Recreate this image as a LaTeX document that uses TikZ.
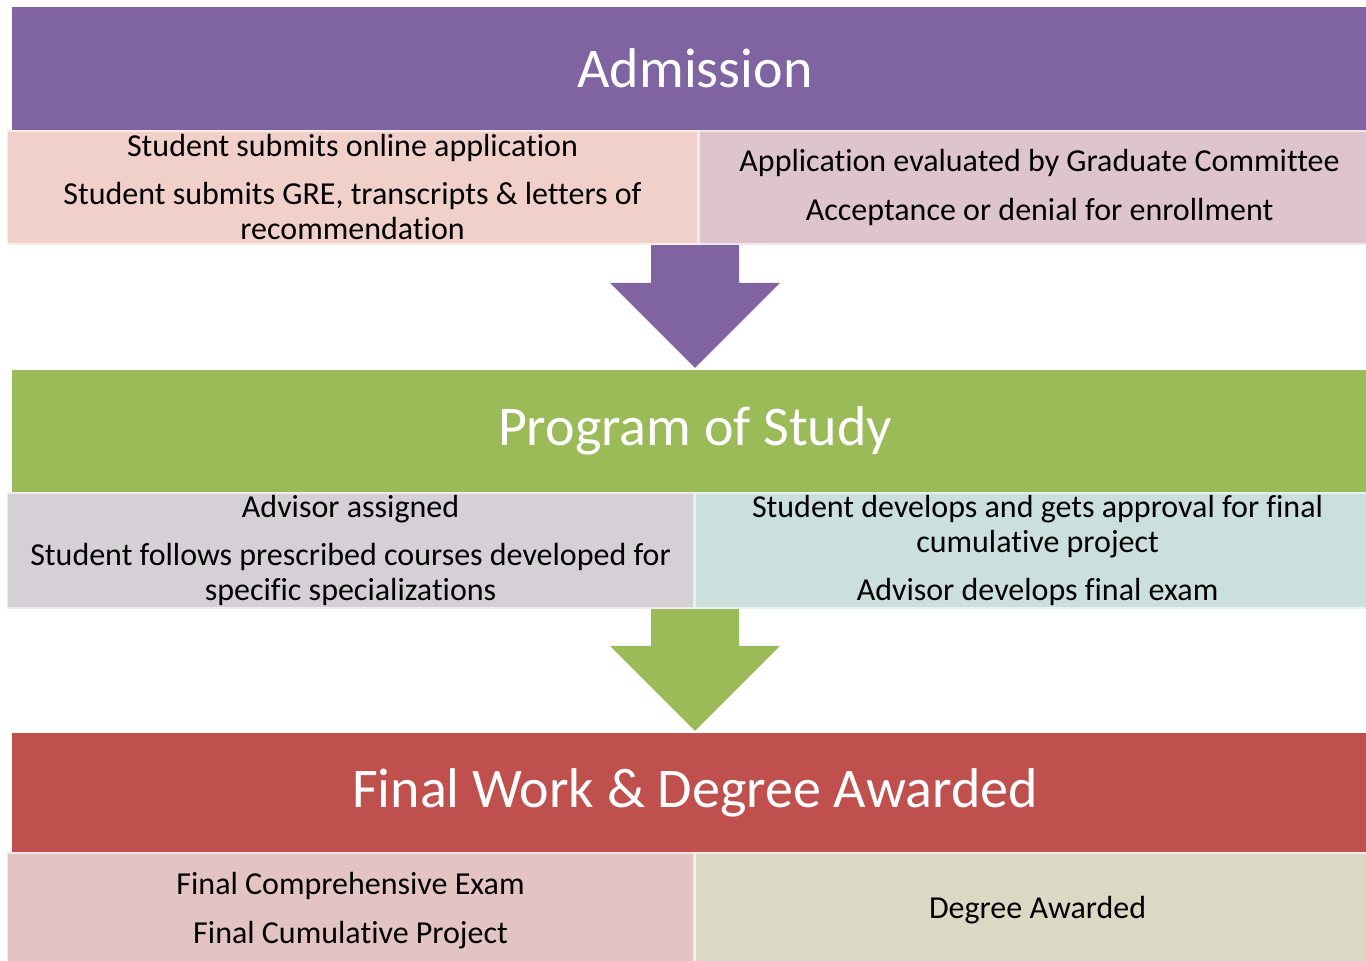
\documentclass[tikz,border=0pt]{standalone}
\usepackage{fontspec}
\setmainfont{Carlito}[Ligatures=NoCommon]
\usetikzlibrary{positioning,calc,backgrounds}
\definecolor{admcol}{HTML}{8064A2}
\definecolor{admL}{HTML}{F0D0C8}
\definecolor{admR}{HTML}{DEC5CC}
\definecolor{progcol}{HTML}{9BBB59}
\definecolor{progL}{HTML}{D4D0D6}
\definecolor{progR}{HTML}{CBDFDC}
\definecolor{fincol}{HTML}{C0504D}
\definecolor{finL}{HTML}{E4C3C3}
\definecolor{finR}{HTML}{DBD9C4}
\tikzset{x=1pt, y=-1pt, % one unit is one pixel of the slide
        head/.style={ % Sets the properties for each stage title
            rectangle,
            inner sep=0pt,
            minimum width=1366pt,
            minimum height=123pt,
            text=white,
            font=\fontsize{56}{60}\selectfont},
        sub/.style={ % Sets the properties for each detail box
            rectangle,
            inner sep=0pt,
            align=center,
            minimum height=113pt,
            line width=1.5pt,
            font=\fontsize{32}{35}\selectfont},
        }
% block arrow from the bottom of a box (#1) to the top of the next stage (#2)
\newcommand{\blockarrow}[3]{%
    \fill[#3] let \p1=(#1), \p2=(#2) in
        (\x2-44pt,\y1+10pt) -- (\x2+44pt,\y1+10pt) -- (\x2+44pt,\y2+87pt)
        -- (\x2+85pt,\y2+87pt) -- (\x2,\y2+2pt) -- (\x2-85pt,\y2+87pt)
        -- (\x2-44pt,\y2+87pt) -- cycle;}

\begin{document}
\begin{tikzpicture}
    \useasboundingbox (0,0) rectangle (1366,961);

    % Admission
    \node[head, fill=admcol, minimum height=123pt] (adm) at (695,68.5) {Admission};
    \node[sub, fill=admL, draw=admL!40!white, minimum width=690pt, anchor=north west]
        (admLeft) at ([xshift=-5pt]adm.south west)
        {Student submits online application\\[13pt]
         Student submits GRE, transcripts \& letters of\\ recommendation};
    \node[sub, fill=admR, draw=admR!40!white, minimum width=681pt, right=0pt of admLeft]
        (admRight) {Application evaluated by Graduate Committee\\[14pt]
         Acceptance or denial for enrollment};

    % Program of Study
    \node[head, fill=progcol, minimum height=122pt] (prog) at (695,431) {Program of Study};
    \node[sub, fill=progL, draw=progL!40!white, minimum width=686pt, minimum height=115pt, anchor=north west]
        (progLeft) at ([xshift=-5pt]prog.south west)
        {Advisor assigned\\[13pt]
         Student follows prescribed courses developed for\\ specific specializations};
    \node[sub, fill=progR, draw=progR!40!white, minimum width=685pt, minimum height=115pt, right=0pt of progLeft]
        (progRight) {Student develops and gets approval for final\\ cumulative project\\[13pt]
         Advisor develops final exam};

    % Final Work & Degree Awarded
    \node[head, fill=fincol, minimum height=119pt] (fin) at (695,792.5) {Final Work \& Degree Awarded};
    \node[sub, fill=finL, draw=finL!40!white, minimum width=686pt, minimum height=115pt, anchor=north west]
        (finLeft) at ([xshift=-5pt]fin.south west)
        {Final Comprehensive Exam\\[14pt]
         Final Cumulative Project};
    \node[sub, fill=finR, draw=finR!40!white, minimum width=685pt, minimum height=115pt, right=0pt of finLeft]
        (finRight) {Degree Awarded};

    \begin{pgfonlayer}{background}
        \blockarrow{admLeft.south east}{prog.north}{admcol}
        \blockarrow{progLeft.south east}{fin.north}{progcol}
    \end{pgfonlayer}
\end{tikzpicture}
\end{document}
